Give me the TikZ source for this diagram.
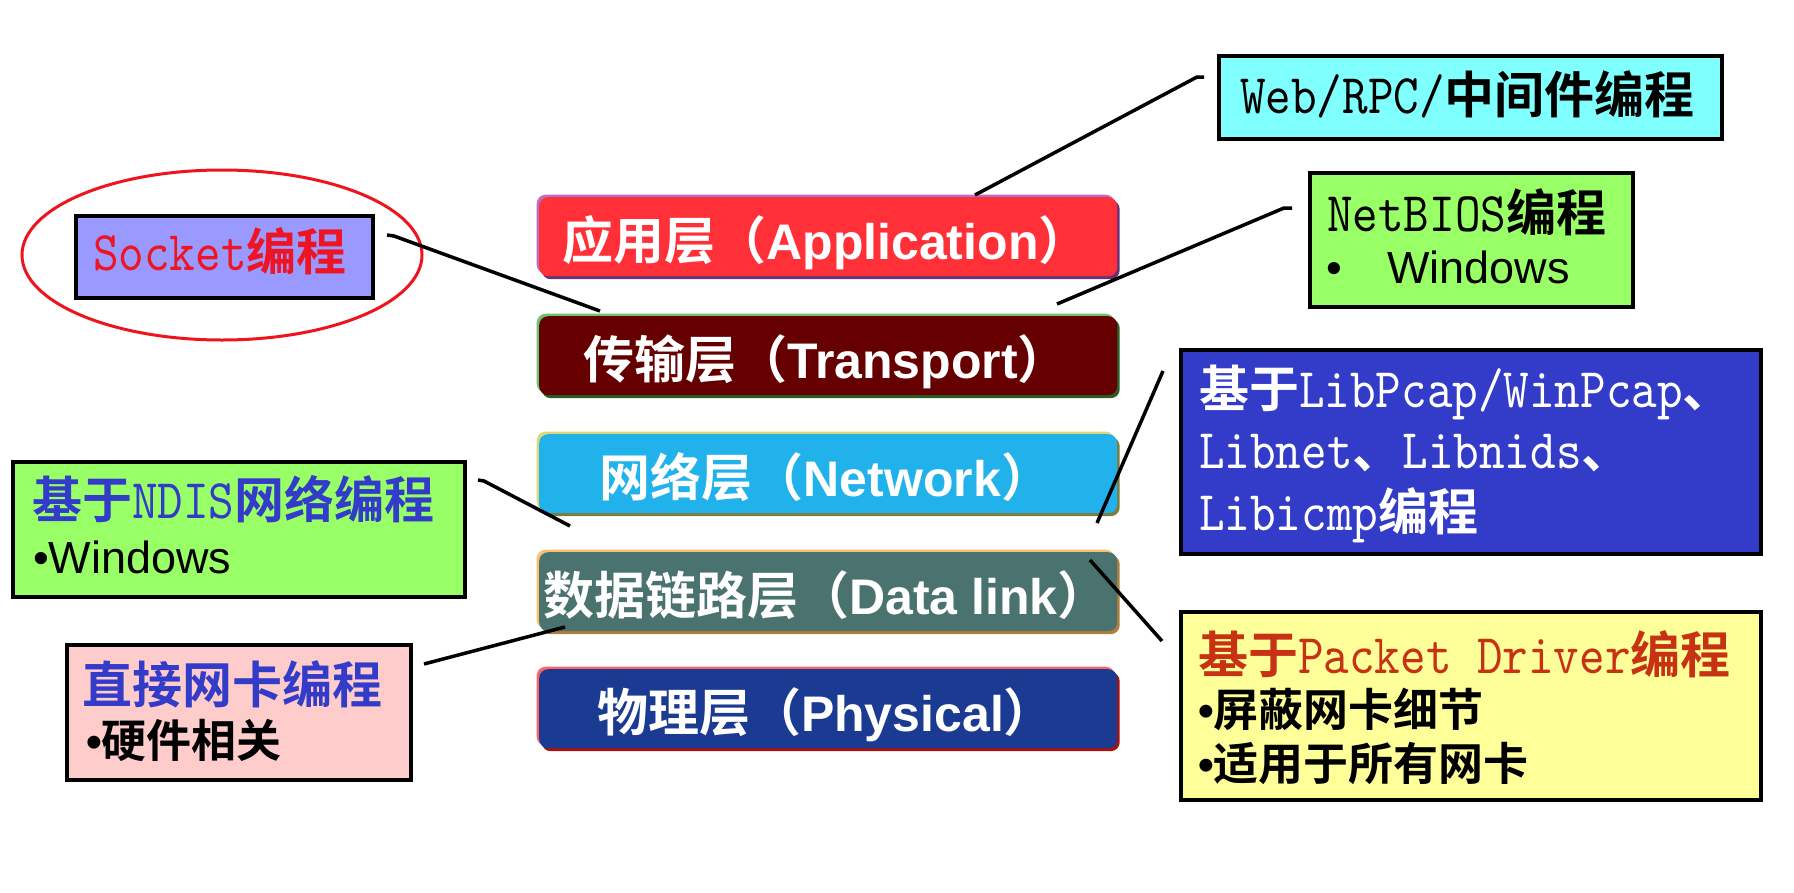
\documentclass[tikz,border=0pt]{standalone}
\usepackage{fontspec}
\usetikzlibrary{shapes.geometric}
\newfontfamily\cjk{Noto Sans CJK SC Bold}
\newfontfamily\arial{Liberation Sans}
\newfontfamily\simlat{lmmono10-regular.otf}[FakeStretch=0.87]
\newcommand\ZH[1]{{\cjk\fontsize{50}{60}\selectfont #1}}
\newcommand\ZHs[1]{{\cjk\fontsize{45}{54}\selectfont #1}}
\newcommand\LA[1]{{\simlat\fontsize{56}{60}\selectfont #1}}
\newcommand\AR[1]{{\arial\fontsize{45}{54}\selectfont #1}}
\newcommand\ARB[1]{{\arial\bfseries\fontsize{45}{54}\selectfont #1}}
\newcommand\LZ[1]{{\cjk\fontsize{51}{60}\selectfont #1}}
\newcommand\LE[1]{{\arial\bfseries\fontsize{50}{60}\selectfont #1}}
\definecolor{appF}{RGB}{255,48,56}
\definecolor{appL}{RGB}{185,110,195}
\definecolor{appD}{RGB}{105,50,115}
\definecolor{traF}{RGB}{102,0,0}
\definecolor{traL}{RGB}{110,195,110}
\definecolor{traD}{RGB}{40,95,35}
\definecolor{netF}{RGB}{33,178,236}
\definecolor{netL}{RGB}{220,215,120}
\definecolor{netD}{RGB}{125,125,60}
\definecolor{dlF}{RGB}{74,115,112}
\definecolor{dlL}{RGB}{250,190,110}
\definecolor{dlD}{RGB}{175,125,60}
\definecolor{phyF}{RGB}{27,58,146}
\definecolor{phyL}{RGB}{250,100,100}
\definecolor{phyD}{RGB}{160,20,20}
\definecolor{cyanF}{RGB}{128,255,255}
\definecolor{greenF}{RGB}{153,255,102}
\definecolor{blueF}{RGB}{51,60,200}
\definecolor{yellowF}{RGB}{255,255,153}
\definecolor{sockF}{RGB}{153,153,255}
\definecolor{pinkF}{RGB}{255,204,204}
\definecolor{sockT}{RGB}{238,20,35}
\definecolor{ndisT}{RGB}{51,60,200}
\definecolor{pktT}{RGB}{200,50,20}
\definecolor{ellC}{RGB}{238,20,30}
\tikzset{
  box/.style={draw=black, line width=3.5pt, inner sep=0pt, anchor=north west},
  txt/.style={inner sep=0pt, anchor=base west},
  ltxt/.style={inner sep=0pt, anchor=base, text=white},
  conn/.style={line width=3.5pt, draw=black},
  layer/.style n args={3}{rectangle, rounded corners=9pt, fill=#1,
    minimum width=578pt, minimum height=79pt, inner sep=0pt, anchor=north west,
    preaction={fill=#3, transform canvas={shift={(2.5pt,-3pt)}}},
    preaction={fill=#2, transform canvas={shift={(-2.5pt,2.5pt)}}}},
}
\begin{document}
\begin{tikzpicture}[x=1pt,y=-1pt]
\useasboundingbox (0,0) rectangle (1794,892);
\fill[white] (0,0) rectangle (1794,892);

% layers
\node[layer={appF}{appL}{appD}] (app) at (539,197) {};
\node[layer={traF}{traL}{traD}] (tra) at (539,316) {};
\node[layer={netF}{netL}{netD}] (net) at (539,434) {};
\node[layer={dlF}{dlL}{dlD}] (dl) at (539,552) {};
\node[layer={phyF}{phyL}{phyD}] (phy) at (539,669) {};
\node[ltxt] (appT) at (826,259) {\LZ{应用层（}\LE{Application}\LZ{）}};
\node[ltxt] (traT) at (826,378) {\LZ{传输层（}\LE{Transport}\LZ{）}};
\node[ltxt] (netT) at (826,496) {\LZ{网络层（}\LE{Network}\LZ{）}};
\node[ltxt] (dlT) at (826,614) {\LZ{数据链路层（}\LE{Data link}\LZ{）}};
\node[ltxt] (phyT) at (826,731) {\LZ{物理层（}\LE{Physical}\LZ{）}};

% side boxes
\node[box, fill=cyanF, minimum width=503pt, minimum height=83pt] (web) at (1217,54) {};
\node[box, fill=greenF, minimum width=323pt, minimum height=134pt] (nb) at (1308,171) {};
\node[box, fill=blueF, minimum width=580pt, minimum height=204pt] (lib) at (1179,348) {};
\node[box, fill=yellowF, minimum width=580pt, minimum height=188pt] (pkt) at (1179,610) {};
\node[box, fill=sockF, minimum width=297pt, minimum height=82pt] (sock) at (74,214) {};
\node[box, fill=greenF, minimum width=452pt, minimum height=135pt] (ndis) at (11,460) {};
\node[box, fill=pinkF, minimum width=344pt, minimum height=135pt] (dir) at (65,643) {};
\node[draw=ellC, line width=3pt, ellipse, minimum width=400pt, minimum height=170pt, inner sep=0pt] (ell) at (222,255) {};

% texts
\node[txt] (webT) at (1240,113) {\LA{Web/RPC/}\ZH{中间件编程}};
\node[txt] (nbT1) at (1327,231) {\LA{NetBIOS}\ZH{编程}};
\node[txt] (nbB) at (1326,283) {\AR{•}};
\node[txt] (nbT2) at (1387,283) {\AR{Windows}};
\node[txt, text=white] (libT1) at (1199,407) {\ZH{基于}\LA{LibPcap/WinPcap}\ZH{、}};
\node[txt, text=white] (libT2) at (1199,468) {\LA{Libnet}\ZH{、}\LA{Libnids}\ZH{、}};
\node[txt, text=white] (libT3) at (1199,530) {\LA{Libicmp}\ZH{编程}};
\node[txt, text=pktT] (pktT1) at (1198,673) {\ZH{基于}\LA{Packet Driver}\ZH{编程}};
\node[txt] (pktT2) at (1198,726) {\ARB{•}\ZHs{屏蔽网卡细节}};
\node[txt] (pktT3) at (1198,780) {\ARB{•}\ZHs{适用于所有网卡}};
\node[txt, text=sockT] (sockT) at (93,270) {\LA{Socket}\ZH{编程}};
\node[txt, text=ndisT] (ndisT1) at (32,518) {\ZH{基于}\LA{NDIS}\ZH{网络编程}};
\node[txt] (ndisT2) at (33,573) {\AR{•Windows}};
\node[txt, text=ndisT] (dirT1) at (82,703) {\ZH{直接网卡编程}};
\node[txt] (dirT2) at (86,757) {\ARB{•}\ZHs{硬件相关}};

% connector end points
\coordinate (wA) at (1204,77);  \coordinate (wB) at (1197,77);  \coordinate (wC) at (975,195);
\coordinate (nA) at (1292,208); \coordinate (nB) at (1284,208); \coordinate (nC) at (1057,304);
\coordinate (sA) at (387,235);  \coordinate (sB) at (394,236);  \coordinate (sC) at (600,311);
\coordinate (dA) at (478,480);  \coordinate (dB) at (484,481);  \coordinate (dC) at (570,526);
\coordinate (rA) at (424,664);  \coordinate (rB) at (565,627);
\coordinate (lA) at (1163,371); \coordinate (lB) at (1097,523);
\coordinate (pA) at (1090,560); \coordinate (pB) at (1162,641);

\draw[conn] (wA) -- (wB) -- (wC);
\draw[conn] (nA) -- (nB) -- (nC);
\draw[conn] (sA) -- (sB) -- (sC);
\draw[conn] (dA) -- (dB) -- (dC);
\draw[conn] (rA) -- (rB);
\draw[conn] (lA) -- (lB);
\draw[conn] (pA) -- (pB);
\end{tikzpicture}
\end{document}
